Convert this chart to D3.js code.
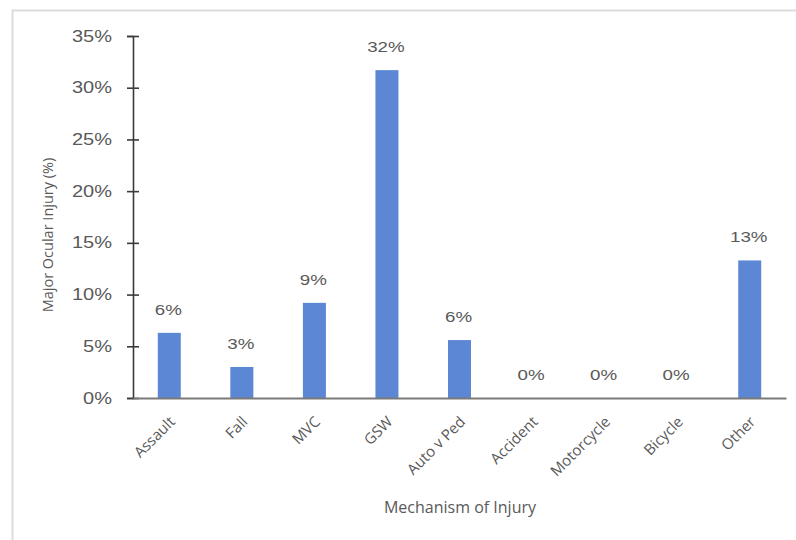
<!DOCTYPE html>
<html>
<head>
<meta charset="utf-8">
<script src="https://cdn.jsdelivr.net/npm/d3@7"></script>
<style>
  html, body { margin: 0; padding: 0; background: #fff; }
  svg { display: block; }
</style>
</head>
<body>
<svg id="chart" width="796" height="540"></svg>
<script>
// Share of patients with major ocular injury, by mechanism of injury
const categories = ["Assault", "Fall", "MVC", "GSW", "Auto v Ped", "Accident", "Motorcycle", "Bicycle", "Other"];
const values = [6.3, 3.0, 9.2, 31.7, 5.6, 0, 0, 0, 13.3];
const yTicks = [0, 5, 10, 15, 20, 25, 30, 35];

const svg = d3.select("#chart");
const W = 796, H = 540;
const margin = { left: 133, right: 10, top: 36, bottom: 142 };
const plotBottom = H - margin.bottom;

const textGray = "#595959";
const barColor = "#5b87d4";
const stretch = 1.25; // wide lettering of numeric labels

// chart frame
svg.append("rect")
  .attr("x", 12.5).attr("y", 10.5)
  .attr("width", W + 10).attr("height", H + 10)
  .attr("fill", "#fff")
  .attr("stroke", "#dcdcdc").attr("stroke-width", 2);

const x = d3.scaleBand().domain(categories).range([margin.left, 786]).padding(0);
const y = d3.scaleLinear().domain([0, 35]).range([plotBottom, margin.top]);
const barW = 23;

// bars
svg.append("g").selectAll("rect")
  .data(categories)
  .join("rect")
  .attr("x", (d) => x(d) + x.bandwidth() / 2 - barW / 2)
  .attr("y", (d, i) => y(values[i]))
  .attr("width", barW)
  .attr("height", (d, i) => y(0) - y(values[i]))
  .attr("fill", barColor);

// value labels
svg.append("g").selectAll("text")
  .data(categories)
  .join("text")
  .attr("transform", (d, i) => `translate(${x(d) + x.bandwidth() / 2 - 1},${y(values[i]) - 18}) scale(${stretch},1)`)
  .attr("text-anchor", "middle")
  .attr("font-family", "'Liberation Sans', Arial, sans-serif")
  .attr("font-size", 15)
  .attr("fill", textGray)
  .text((d, i) => Math.round(values[i]) + "%");

// y axis
const yAxis = svg.append("g")
  .attr("transform", `translate(${margin.left},0)`)
  .call(d3.axisLeft(y).tickValues(yTicks).tickSize(6).tickPadding(0).tickFormat((d) => d + "%"));
yAxis.select(".domain").attr("stroke", "#3a3a3a").attr("stroke-width", 1.6);
yAxis.selectAll(".tick line").attr("x1", -6).attr("x2", 6).attr("stroke", "#3a3a3a").attr("stroke-width", 1.6);
yAxis.selectAll(".tick text")
  .attr("x", null)
  .attr("transform", `translate(-21,0) scale(${stretch},1)`)
  .attr("font-family", "'Liberation Sans', Arial, sans-serif")
  .attr("font-size", 16)
  .attr("fill", textGray);

// x axis
const xAxis = svg.append("g")
  .attr("transform", `translate(0,${plotBottom})`)
  .call(d3.axisBottom(x).tickSize(0).tickPadding(0));
xAxis.select(".domain").attr("stroke", "#7a7a7a").attr("stroke-width", 2.2);
xAxis.selectAll(".tick text")
  .attr("y", null).attr("dy", "0.35em")
  .attr("transform", "translate(3,21) rotate(-45)")
  .attr("text-anchor", "end")
  .attr("font-family", "'Open Sans', sans-serif")
  .attr("font-size", 15)
  .attr("fill", textGray);

// axis titles
svg.append("text")
  .attr("x", 460).attr("y", 513)
  .attr("text-anchor", "middle")
  .attr("font-family", "'Open Sans', sans-serif")
  .attr("font-size", 16)
  .attr("fill", textGray)
  .text("Mechanism of Injury");

svg.append("text")
  .attr("transform", "translate(53,235) rotate(-90)")
  .attr("text-anchor", "middle")
  .attr("font-family", "'Open Sans', sans-serif")
  .attr("font-size", 14.5)
  .attr("fill", textGray)
  .text("Major Ocular Injury (%)");
</script>
</body>
</html>
